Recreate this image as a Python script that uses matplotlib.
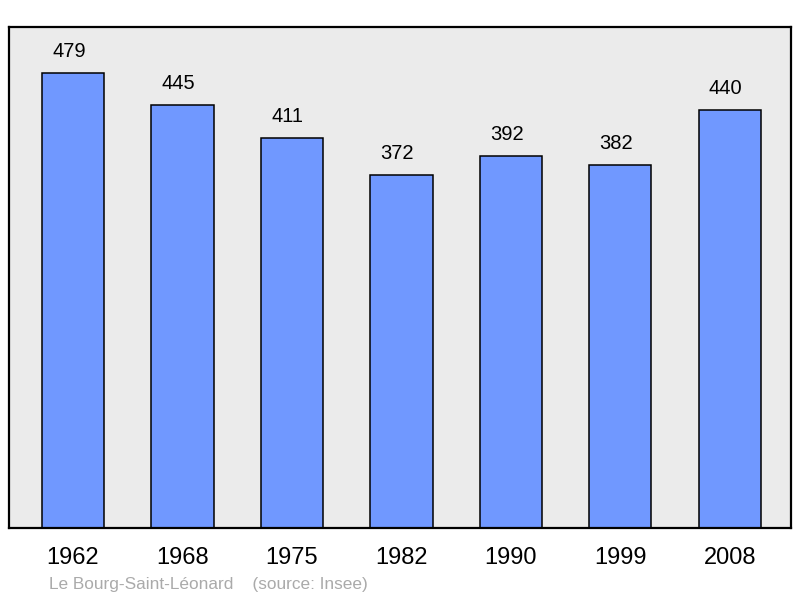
import matplotlib
matplotlib.use("Agg")
import matplotlib.pyplot as plt

# ===== DATA =====
years = ["1962", "1968", "1975", "1982", "1990", "1999", "2008"]
population = [479, 445, 411, 372, 392, 382, 440]

plt.rcParams["font.family"] = ["Liberation Sans", "DejaVu Sans"]

fig = plt.figure(figsize=(8, 5.98), dpi=100)
ax = fig.add_axes([9 / 800, 70 / 598, 782 / 800, 501 / 598])
ax.set_facecolor("#ebebeb")

x = range(len(years))
ax.bar(x, population, width=0.57, color="#7098ff", edgecolor="black", linewidth=1.1, zorder=2)

# ===== VALUE LABELS =====
for xi, val in zip(x, population):
    ax.annotate(str(val), (xi, val), xytext=(-3, 15.5), textcoords="offset points",
                ha="center", va="center", fontsize=14.5, color="black")

ax.set_xlim(-0.585, 6.56)
ax.set_ylim(0, 527.4)
ax.set_xticks(list(x))
ax.set_xticklabels(years, fontsize=17)
ax.tick_params(axis="x", length=0, pad=14)
ax.set_yticks([])

for sp in ax.spines.values():
    sp.set_linewidth(1.6)

fig.text(49 / 800, 1 - 584 / 598, "Le Bourg-Saint-Léonard    (source: Insee)",
         fontsize=12.4, color="#aaaaaa", ha="left", va="center")

fig.savefig("out.png", dpi=100)
